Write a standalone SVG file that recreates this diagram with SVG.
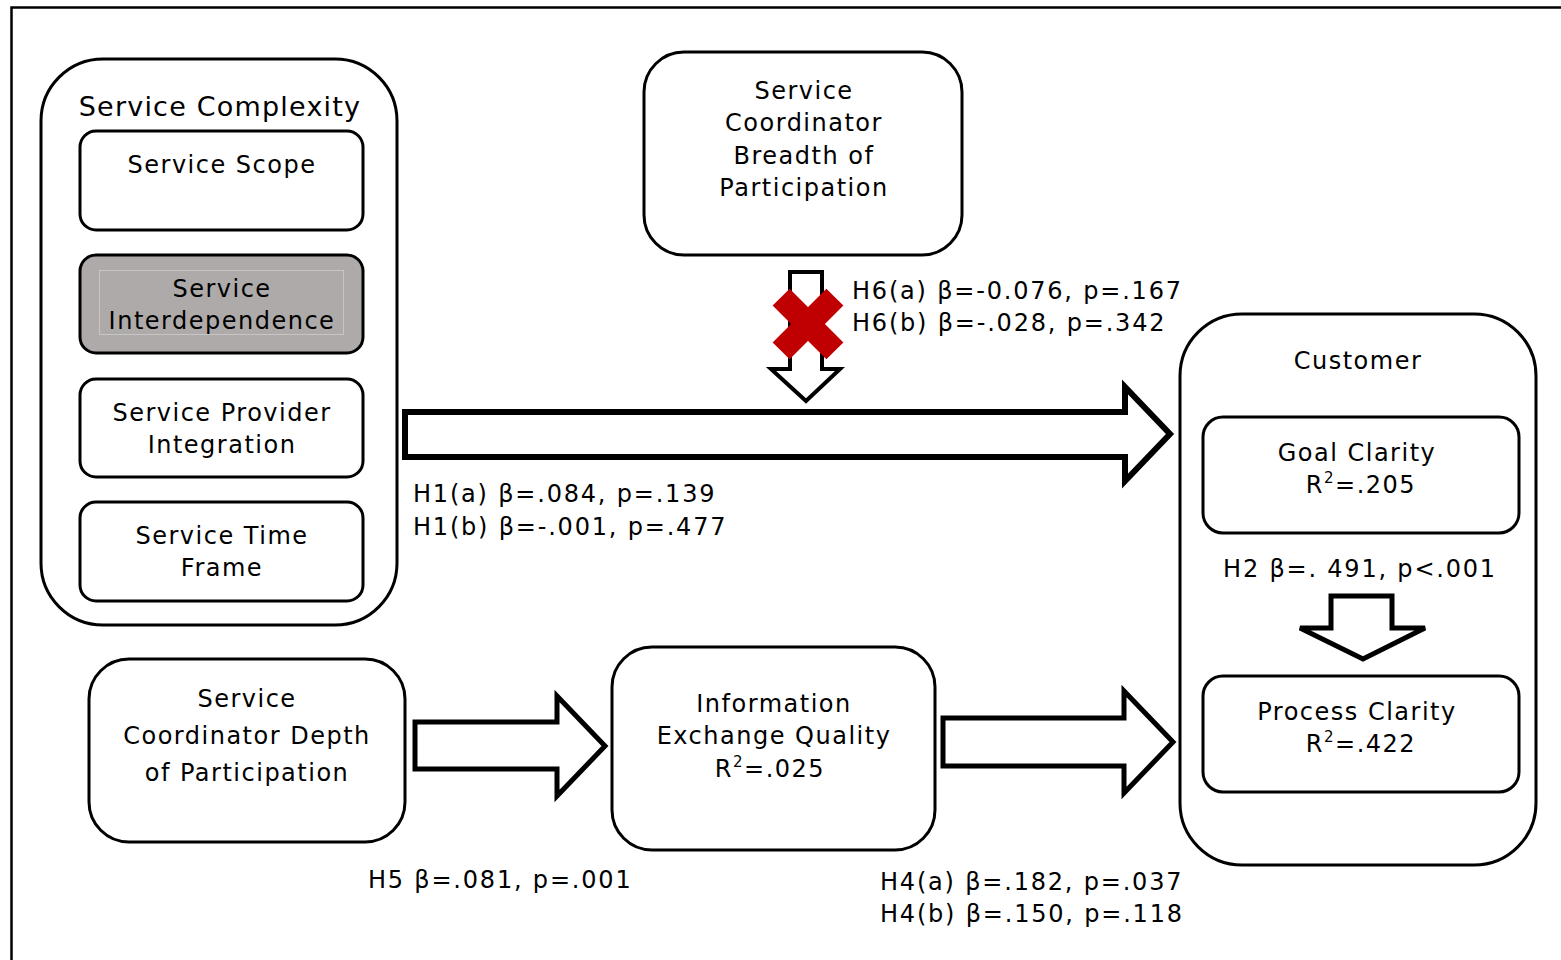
<svg xmlns="http://www.w3.org/2000/svg" width="1561" height="960" viewBox="0 0 1561 960">
  <style>
    text { font-family: "DejaVu Sans", Verdana, sans-serif; font-size: 24px; fill: #000; letter-spacing: 1.5px; }
    .c { text-anchor: middle; }
    .box { fill: #fff; stroke: #000; stroke-width: 3; }
    .gray { fill: #aeaaaa; stroke: #000; stroke-width: 3; }
    .arrow { fill: #fff; stroke: #000; stroke-linejoin: miter; }
    .title { font-size: 27px; letter-spacing: 1.2px; }
    .lbl { letter-spacing: 1.8px; }
  </style>
  <rect width="1561" height="960" fill="#fff"/>
  <!-- page frame -->
  <path d="M11.5,960 V7.5 H1561" fill="none" stroke="#000" stroke-width="2.5"/>

  <g id="service-complexity">
    <rect class="box" x="41" y="59" width="356" height="566" rx="62"/>
    <text class="c title" x="220" y="116">Service Complexity</text>
  </g>
  <g id="service-scope">
    <rect class="box" x="80" y="131" width="283" height="99" rx="16"/>
    <text class="c" x="222" y="173">Service Scope</text>
  </g>
  <g id="service-interdependence">
    <rect class="gray" x="80" y="255" width="283" height="98" rx="16"/>
    <rect x="99.5" y="270.5" width="244" height="64" fill="none" stroke="#c8c5c5" stroke-width="1"/>
    <text class="c" x="222" y="297">Service</text>
    <text class="c" x="222" y="329">Interdependence</text>
  </g>
  <g id="service-provider-integration">
    <rect class="box" x="80" y="379" width="283" height="98" rx="16"/>
    <text class="c" x="222" y="421">Service Provider</text>
    <text class="c" x="222" y="453">Integration</text>
  </g>
  <g id="service-time-frame">
    <rect class="box" x="80" y="502" width="283" height="99" rx="16"/>
    <text class="c" x="222" y="544">Service Time</text>
    <text class="c" x="222" y="576">Frame</text>
  </g>

  <g id="coordinator-breadth">
    <rect class="box" x="644" y="52" width="318" height="203" rx="40"/>
    <text class="c" x="804" y="99">Service</text>
    <text class="c" x="804" y="131">Coordinator</text>
    <text class="c" x="804" y="164">Breadth of</text>
    <text class="c" x="804" y="196">Participation</text>
  </g>

  <g id="coordinator-depth">
    <rect class="box" x="89" y="659" width="316" height="183" rx="40"/>
    <text class="c" x="247" y="707">Service</text>
    <text class="c" x="247" y="744">Coordinator Depth</text>
    <text class="c" x="247" y="781">of Participation</text>
  </g>

  <g id="information-exchange">
    <rect class="box" x="612" y="647" width="323" height="203" rx="40"/>
    <text class="c" x="774" y="712">Information</text>
    <text class="c" x="774" y="744">Exchange Quality</text>
    <text class="c" x="770" y="777">R<tspan font-size="15" dy="-10">2</tspan><tspan dy="10">=.025</tspan></text>
  </g>

  <g id="customer">
    <rect class="box" x="1180" y="314" width="356" height="551" rx="62"/>
    <text class="c" x="1358" y="369">Customer</text>
  </g>
  <g id="goal-clarity">
    <rect class="box" x="1203" y="417" width="316" height="116" rx="20"/>
    <text class="c" x="1357" y="461">Goal Clarity</text>
    <text class="c" x="1361" y="493">R<tspan font-size="15" dy="-10">2</tspan><tspan dy="10">=.205</tspan></text>
  </g>
  <g id="process-clarity">
    <rect class="box" x="1203" y="676" width="316" height="116" rx="20"/>
    <text class="c" x="1357" y="720">Process Clarity</text>
    <text class="c" x="1361" y="752">R<tspan font-size="15" dy="-10">2</tspan><tspan dy="10">=.422</tspan></text>
  </g>

  <g id="connectors">
    <!-- H1: complexity to customer -->
    <polygon class="arrow" stroke-width="6" points="405,412 1125,412 1125,387 1170,434 1125,481 1125,457 405,457"/>
    <!-- H6: breadth of participation moderating H1 -->
    <polygon class="arrow" stroke-width="4" points="790,272 822,272 822,369 840,369 806,401 771,369 790,369"/>
    <g id="not-supported" fill="#c00000">
      <rect x="770" y="312" width="76" height="24" transform="rotate(45 808 324)"/>
      <rect x="770" y="312" width="76" height="24" transform="rotate(-45 808 324)"/>
    </g>
    <!-- H2: goal clarity to process clarity -->
    <polygon class="arrow" stroke-width="5" points="1331,596 1392,596 1392,628 1425,628 1363,659 1300,628 1331,628"/>
    <!-- H5: depth to information exchange -->
    <polygon class="arrow" stroke-width="5" points="415,722 557,722 557,696 605,746 557,796 557,769 415,769"/>
    <!-- H4: information exchange to customer -->
    <polygon class="arrow" stroke-width="5" points="943,718 1124,718 1124,691 1173,742 1124,793 1124,766 943,766"/>
  </g>

  <g id="labels">
    <text class="lbl" x="852" y="299">H6(a) β=-0.076, p=.167</text>
    <text class="lbl" x="852" y="331">H6(b) β=-.028, p=.342</text>
    <text class="lbl" x="413" y="502">H1(a) β=.084, p=.139</text>
    <text class="lbl" x="413" y="535">H1(b) β=-.001, p=.477</text>
    <text class="c lbl" x="1360" y="577">H2 β=. 491, p&lt;.001</text>
    <text class="lbl" x="368" y="888">H5 β=.081, p=.001</text>
    <text class="lbl" x="880" y="890">H4(a) β=.182, p=.037</text>
    <text class="lbl" x="880" y="922">H4(b) β=.150, p=.118</text>
  </g>
</svg>
